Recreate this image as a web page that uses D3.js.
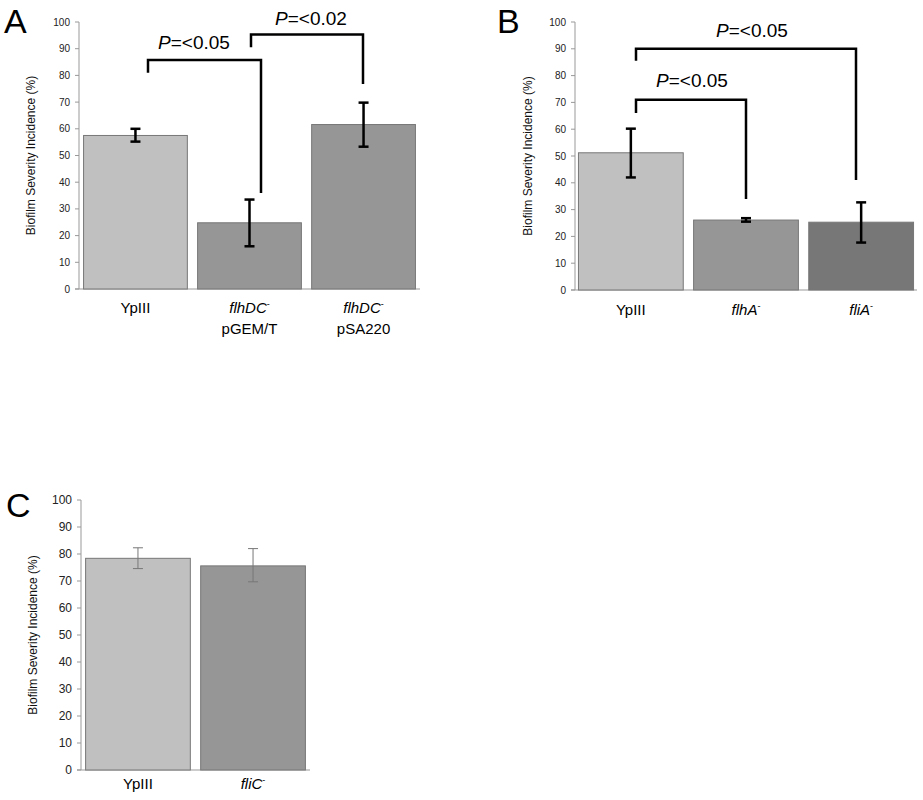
<!DOCTYPE html><html><head><meta charset="utf-8"><script src="https://cdn.jsdelivr.net/npm/d3@7"></script>
<style>body{margin:0;background:#fff}text{font-family:Arial,"Liberation Sans",sans-serif}</style></head><body>
<svg id="c" width="923" height="800"></svg>
<script>
const ticks=[0,10,20,30,40,50,60,70,80,90,100];
const catsA=["YpIII","flhDC pGEM/T","flhDC pSA220"], valsA=[57.5,24.8,61.6], loA=[55.2,16,53.3], hiA=[60,33.5,69.8];
const catsB=["YpIII","flhA","fliA"], valsB=[51.2,26.1,25.3], loB=[42,25.5,17.7], hiB=[60.2,26.8,32.7];
const catsC=["YpIII","fliC"], valsC=[78.4,75.6], loC=[74.6,69.7], hiC=[82.3,82];
const colA=["#c0c0c0","#969696","#969696"], colB=["#c0c0c0","#969696","#777"], colC=["#c0c0c0","#969696"];
const svg=d3.select("#c");
function panel(o){
  const g=svg.append("g");
  const y=d3.scaleLinear().domain([0,100]).range([o.y0,o.y1]);
  const x=d3.scaleBand().domain(o.cats).range([o.x0,o.x1]).paddingInner(o.pi).paddingOuter(o.po);
  g.append("line").attr("x1",o.x0).attr("x2",o.x0).attr("y1",o.y0).attr("y2",o.y1).attr("stroke","#999");
  g.append("line").attr("x1",o.x0-4).attr("x2",o.x1).attr("y1",o.y0).attr("y2",o.y0).attr("stroke","#999");
  ticks.forEach(t=>{g.append("line").attr("x1",o.x0-4).attr("x2",o.x0).attr("y1",y(t)).attr("y2",y(t)).attr("stroke","#999");
    g.append("text").attr("x",o.x0-9).attr("y",y(t)).attr("dy","0.35em").attr("text-anchor","end").attr("font-size",o.tf).attr("fill","#222").text(t);});
  o.cats.forEach((c,i)=>{
    g.append("rect").attr("x",x(c)).attr("y",y(o.vals[i])).attr("width",x.bandwidth()).attr("height",o.y0-y(o.vals[i])).attr("fill",o.cols[i]).attr("stroke","#777");
    const cx=x(c)+x.bandwidth()/2;
    const es=o.thin?{s:"#777",w:1,h:5}:{s:"#000",w:2.5,h:5};
    g.append("line").attr("x1",cx).attr("x2",cx).attr("y1",y(o.lo[i])).attr("y2",y(o.hi[i])).attr("stroke",es.s).attr("stroke-width",es.w);
    [o.lo[i],o.hi[i]].forEach(v=>g.append("line").attr("x1",cx-es.h).attr("x2",cx+es.h).attr("y1",y(v)).attr("y2",y(v)).attr("stroke",es.s).attr("stroke-width",es.w));
  });
  const ty=(o.y0+o.y1)/2;
  g.append("text").attr("transform",`translate(${o.tx},${ty}) rotate(-90)`).attr("text-anchor","middle").attr("dy","0.35em").attr("font-size",o.ttf).attr("fill","#111").text("Biofilm Severity Incidence  (%)");
  g.append("text").attr("x",o.lx).attr("y",o.ly).attr("font-size",34).text(o.label);
  return {g,x,y};
}
function xlab(g,x,c,main,sup,sub,yy,fs){
  const cx=x(c)+x.bandwidth()/2;
  const t=g.append("text").attr("x",cx).attr("y",yy).attr("text-anchor","middle").attr("font-size",fs);
  if(sup!==null){t.append("tspan").attr("font-style","italic").text(main);t.append("tspan").attr("font-size",fs*0.6).attr("dy",-6).text("-");}
  else t.text(main);
  if(sub) g.append("text").attr("x",cx).attr("y",yy+21).attr("text-anchor","middle").attr("font-size",fs).text(sub);
}
function bracket(g,x,y,a,b,ya,ytop,yb,txt,tyv){
  const xa=x(a)+x.bandwidth()/2, xb=x(b)+x.bandwidth()/2;
  g.append("path").attr("d",`M${xa},${y(ya)}V${y(ytop)}H${xb}V${y(yb)}`).attr("fill","none").attr("stroke","#000").attr("stroke-width",2.5);
  const t=g.append("text").attr("x",(xa+xb)/2).attr("y",y(tyv)).attr("text-anchor","middle").attr("font-size",19);
  t.append("tspan").attr("font-style","italic").text("P");t.append("tspan").text("=<"+txt);
}
// A
let A=panel({cats:catsA,vals:valsA,lo:loA,hi:hiA,cols:colA,x0:79,x1:420,y0:289,y1:22,pi:0.09,po:0.04,tf:10,ttf:12,tx:31,label:"A",lx:4,ly:33});
xlab(A.g,A.x,catsA[0],"YpIII",null,null,313,15);
xlab(A.g,A.x,catsA[1],"flhDC","-","pGEM/T",313,15);
xlab(A.g,A.x,catsA[2],"flhDC","-","pSA220",313,15);
// custom brackets A (endpoints offset from bar centers)
(function(){const g=A.g,y=A.y;
 g.append("path").attr("d",`M148,${y(81)}V${y(85.8)}H261V${y(36)}`).attr("fill","none").attr("stroke","#000").attr("stroke-width",2.5);
 g.append("path").attr("d",`M251,${y(90.5)}V${y(95.3)}H363V${y(76.8)}`).attr("fill","none").attr("stroke","#000").attr("stroke-width",2.5);
 let t=g.append("text").attr("x",194).attr("y",y(86.6)+-9).attr("text-anchor","middle").attr("font-size",19);t.append("tspan").attr("font-style","italic").text("P");t.append("tspan").text("=<0.05");
 t=g.append("text").attr("x",311).attr("y",y(96)-8).attr("text-anchor","middle").attr("font-size",19);t.append("tspan").attr("font-style","italic").text("P");t.append("tspan").text("=<0.02");
})();
// B
let B=panel({cats:catsB,vals:valsB,lo:loB,hi:hiB,cols:colB,x0:575,x1:917,y0:290,y1:22,pi:0.09,po:0.03,tf:10,ttf:12,tx:528,label:"B",lx:497,ly:33});
xlab(B.g,B.x,catsB[0],"YpIII",null,null,315,15);
xlab(B.g,B.x,catsB[1],"flhA","-",null,315,15);
xlab(B.g,B.x,catsB[2],"fliA","-",null,315,15);
(function(){const g=B.g,y=B.y;
 g.append("path").attr("d",`M636,${y(66)}V${y(71)}H746V${y(34)}`).attr("fill","none").attr("stroke","#000").attr("stroke-width",2.5);
 g.append("path").attr("d",`M636,${y(85.5)}V${y(90)}H856V${y(41)}`).attr("fill","none").attr("stroke","#000").attr("stroke-width",2.5);
 let t=g.append("text").attr("x",692).attr("y",y(75.6)).attr("text-anchor","middle").attr("font-size",19);t.append("tspan").attr("font-style","italic").text("P");t.append("tspan").text("=<0.05");
 t=g.append("text").attr("x",752).attr("y",y(94.4)).attr("text-anchor","middle").attr("font-size",19);t.append("tspan").attr("font-style","italic").text("P");t.append("tspan").text("=<0.05");
})();
// C
let C=panel({cats:catsC,vals:valsC,lo:loC,hi:hiC,cols:colC,x0:81,x1:310,y0:770,y1:500,pi:0.09,po:0.04,tf:12,ttf:12,tx:33,label:"C",lx:6,ly:517,thin:true});
xlab(C.g,C.x,catsC[0],"YpIII",null,null,789,15);
xlab(C.g,C.x,catsC[1],"fliC","-",null,789,15);
</script></body></html>
